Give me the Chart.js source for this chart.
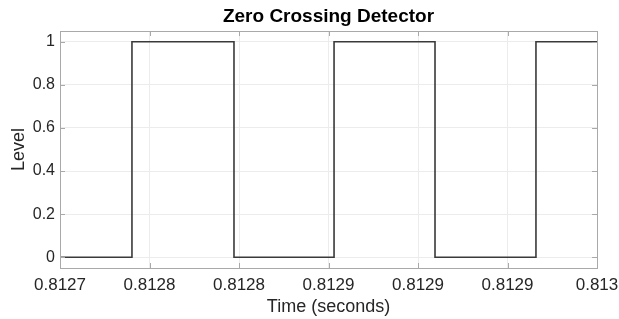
<!DOCTYPE html>
<html>
<head>
<meta charset="utf-8">
<script src="https://cdn.jsdelivr.net/npm/chart.js@4/dist/chart.umd.min.js"></script>
<style>
  html, body { margin: 0; padding: 0; background: #ffffff; }
  #wrap { width: 619px; height: 319px; }
</style>
</head>
<body>
<div id="wrap"><canvas id="c" width="619" height="319"></canvas></div>
<script>
// ---- data ----
const chartTitle = "Zero Crossing Detector";
const xAxisTitle = "Time (seconds)";
const yAxisTitle = "Level";
// times at which the detector output changes (plus the window ends)
const transitionTimes = [0.81270, 0.8127402, 0.8127972, 0.8128531, 0.8129095, 0.8129659, 0.81300];
// output level that holds from each time until the next one
const levels = [0, 1, 0, 1, 0, 1, 1];
const xTickValues = [0.81270, 0.81275, 0.81280, 0.81285, 0.81290, 0.81295, 0.81300];
const xTickLabels = ["0.8127", "0.8128", "0.8128", "0.8129", "0.8129", "0.8129", "0.813"];
const yTickValues = [0, 0.2, 0.4, 0.6, 0.8, 1];
const yTickLabels = ["0", "0.2", "0.4", "0.6", "0.8", "1"];

const points = transitionTimes.map((t, i) => ({ x: t, y: levels[i] }));

const FONT = "'Liberation Sans', Arial, Helvetica, sans-serif";
const TEXT = '#262626';
const BOX = '#a9a9a9';
const GRID = '#ececec';

const boxPlugin = {
  id: 'matlabBox',
  afterDraw(chart) {
    const { ctx, chartArea: a, scales } = chart;
    ctx.save();
    ctx.strokeStyle = BOX;
    ctx.lineWidth = 1;
    ctx.strokeRect(Math.round(a.left) + 0.5, Math.round(a.top) + 0.5,
                   Math.round(a.right - a.left), Math.round(a.bottom - a.top));
    const tl = 5;
    ctx.beginPath();
    xTickValues.forEach(v => {
      const px = Math.round(scales.x.getPixelForValue(v)) + 0.5;
      ctx.moveTo(px, a.bottom); ctx.lineTo(px, a.bottom - tl);
      ctx.moveTo(px, a.top); ctx.lineTo(px, a.top + tl);
    });
    yTickValues.forEach(v => {
      const py = Math.round(scales.y.getPixelForValue(v)) + 0.5;
      ctx.moveTo(a.left, py); ctx.lineTo(a.left + tl, py);
      ctx.moveTo(a.right, py); ctx.lineTo(a.right - tl, py);
    });
    ctx.stroke();
    // title centred over the plot box
    ctx.fillStyle = '#000000';
    ctx.font = "bold 19px " + FONT;
    ctx.textAlign = 'center';
    ctx.textBaseline = 'middle';
    ctx.fillText(chartTitle, (a.left + a.right) / 2, 17);
    ctx.restore();
  }
};

new Chart(document.getElementById('c'), {
  type: 'line',
  data: {
    datasets: [{
      data: points,
      stepped: 'before',
      borderColor: '#3a3a3a',
      borderWidth: 1.6,
      pointRadius: 0,
      fill: false
    }]
  },
  options: {
    responsive: false,
    animation: false,
    devicePixelRatio: 1,
    layout: { padding: { left: 0, right: 22, top: 31, bottom: 0 } },
    plugins: {
      legend: { display: false },
      tooltip: { enabled: false },
      title: { display: false }
    },
    scales: {
      x: {
        type: 'linear',
        min: xTickValues[0],
        max: xTickValues[xTickValues.length - 1],
        afterBuildTicks(s) { s.ticks = xTickValues.map(v => ({ value: v })); },
        afterFit(s) { s.height = 51; s.paddingLeft = 0; s.paddingRight = 0; },
        ticks: {
          autoSkip: false,
          maxRotation: 0,
          padding: 7,
          color: TEXT,
          font: { family: FONT, size: 17 },
          callback: (v, i) => xTickLabels[i]
        },
        grid: { color: GRID, drawTicks: false },
        border: { display: true, color: BOX },
        title: {
          display: true, text: xAxisTitle, color: TEXT,
          font: { family: FONT, size: 18 },
          padding: { top: 0, bottom: 1 }
        }
      },
      y: {
        type: 'linear',
        min: -0.05,
        max: 1.05,
        afterBuildTicks(s) { s.ticks = yTickValues.map(v => ({ value: v })); },
        afterFit(s) { s.width = 60; s.paddingTop = 0; s.paddingBottom = 0; },
        ticks: {
          autoSkip: false,
          padding: 5,
          color: TEXT,
          font: { family: FONT, size: 16 },
          callback: (v, i) => yTickLabels[i]
        },
        grid: { color: GRID, drawTicks: false },
        border: { display: true, color: BOX },
        title: {
          display: true, text: yAxisTitle, color: TEXT,
          font: { family: FONT, size: 18 },
          padding: { top: 8, bottom: 0 }
        }
      }
    }
  },
  plugins: [boxPlugin]
});
</script>
</body>
</html>
